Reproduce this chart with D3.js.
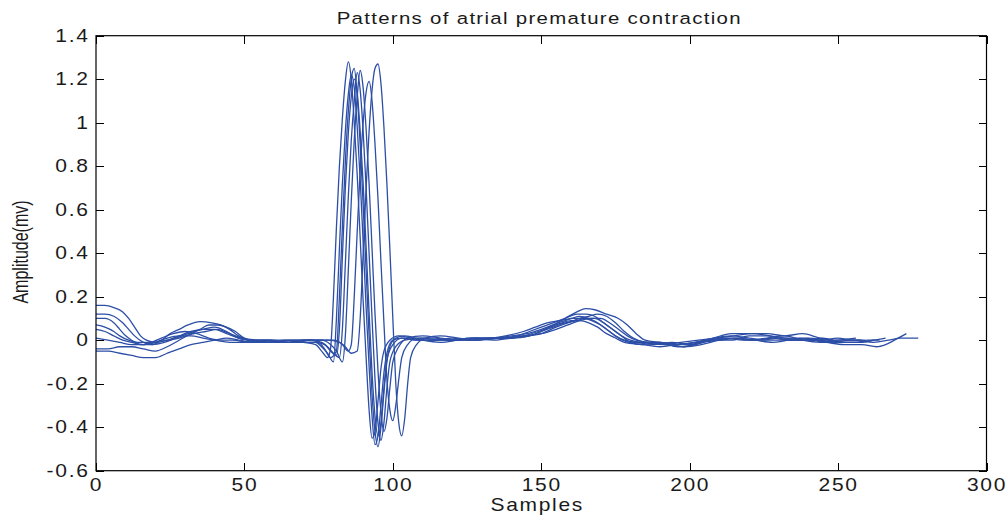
<!DOCTYPE html>
<html><head><meta charset="utf-8">
<script src="https://cdn.jsdelivr.net/npm/d3@7"></script>
<style>body{margin:0;background:#fff}svg{display:block}</style>
</head><body><svg id="c" width="1006" height="515"></svg>
<script>
const title = "Patterns of atrial premature contraction";
const xLabel = "Samples";
const yLabel = "Amplitude(mv)";
const xTicks = [0,50,100,150,200,250,300];
const yTicks = [-0.6,-0.4,-0.2,0,0.2,0.4,0.6,0.8,1,1.2,1.4];

const beat1 = [[0,0.16],[3,0.16],[6,0.15],[9,0.13],[11,0.10],[13,0.06],[15,0.02],[17,0.0],[20,-0.01],[24,0.0],[28,0.02],[32,0.04],[36,0.05],[40,0.06],[44,0.04],[48,0.01],[52,0.0],[58,-0.01],[64,0.0],[70,-0.01],[74,-0.02],[76,-0.05],[78,-0.08],[79,-0.04],[80,0.2],[81,0.52],[82,0.8],[83,1.02],[84,1.19],[85,1.28],[86,1.2],[87,1.0],[88,0.76],[89,0.47],[90,0.18],[91,-0.08],[92,-0.32],[93,-0.45],[94,-0.42],[95,-0.28],[96,-0.13],[97,-0.05],[99,0.0],[102,0.02],[106,0.01],[112,0.0],[120,0.0],[128,0.0],[136,0.01],[142,0.02],[146,0.04],[150,0.06],[154,0.08],[158,0.1],[162,0.12],[165,0.12],[168,0.11],[171,0.08],[174,0.05],[177,0.02],[180,-0.01],[184,-0.02],[190,-0.01],[196,-0.02],[202,-0.01],[208,0.0],[214,0.01],[220,0.0],[226,0.01],[232,0.02],[238,0.0],[244,-0.01],[250,0.0],[256,0.01]];
const beat2 = [[0,0.12],[3,0.12],[6,0.11],[9,0.08],[11,0.05],[13,0.02],[16,-0.01],[19,-0.02],[22,0.0],[25,0.03],[28,0.05],[31,0.07],[35,0.085],[39,0.08],[42,0.07],[45,0.05],[48,0.02],[52,0.0],[58,0.0],[64,-0.01],[70,-0.01],[74,-0.01],[76,-0.03],[78,-0.06],[80,-0.1],[81,0.1],[82,0.42],[83,0.72],[84,0.96],[85,1.13],[86,1.22],[87,1.16],[88,0.98],[89,0.74],[90,0.45],[91,0.15],[92,-0.12],[93,-0.35],[94,-0.48],[95,-0.44],[96,-0.3],[97,-0.15],[98,-0.06],[100,0.0],[103,0.01],[108,0.0],[114,0.0],[120,0.0],[126,0.01],[132,0.01],[138,0.02],[144,0.04],[148,0.06],[152,0.08],[156,0.09],[160,0.1],[163,0.11],[166,0.1],[169,0.08],[172,0.05],[175,0.02],[178,0.0],[182,-0.01],[188,-0.02],[194,-0.01],[200,-0.02],[206,0.0],[212,0.01],[218,0.0],[224,0.0],[230,0.01],[236,0.01],[242,0.0],[248,-0.01],[254,0.0],[258,0.0]];
const beat3 = [[0,0.10],[3,0.10],[6,0.08],[8,0.05],[10,0.02],[12,0.0],[15,-0.02],[19,-0.02],[23,-0.01],[27,0.01],[31,0.03],[35,0.05],[38,0.07],[41,0.07],[44,0.06],[47,0.04],[50,0.01],[54,0.0],[60,-0.01],[66,0.0],[72,0.0],[75,-0.01],[77,-0.04],[79,-0.08],[81,-0.05],[82,0.2],[83,0.52],[84,0.82],[85,1.05],[86,1.2],[87,1.25],[88,1.12],[89,0.9],[90,0.62],[91,0.32],[92,0.02],[93,-0.25],[94,-0.42],[95,-0.49],[96,-0.4],[97,-0.24],[98,-0.1],[99,-0.03],[101,0.01],[104,0.02],[110,0.0],[116,-0.01],[122,0.0],[128,0.01],[134,0.01],[140,0.02],[145,0.03],[150,0.05],[154,0.07],[158,0.09],[161,0.1],[164,0.1],[167,0.09],[170,0.07],[173,0.04],[176,0.01],[180,-0.01],[186,-0.01],[192,-0.02],[198,-0.03],[204,-0.01],[210,0.0],[216,0.01],[222,0.0],[228,0.01],[234,0.0],[240,0.01],[246,0.0],[252,-0.01],[258,-0.01],[262,0.0]];
const beat4 = [[0,0.07],[3,0.06],[6,0.04],[8,0.02],[11,0.0],[14,-0.01],[18,-0.01],[22,0.01],[26,0.03],[30,0.04],[34,0.03],[38,0.01],[42,0.0],[46,0.0],[52,-0.01],[58,0.0],[64,0.0],[70,-0.01],[74,-0.01],[77,-0.02],[79,-0.05],[81,-0.07],[82,0.05],[83,0.38],[84,0.7],[85,0.95],[86,1.12],[87,1.2],[88,1.14],[89,0.96],[90,0.72],[91,0.43],[92,0.13],[93,-0.15],[94,-0.35],[95,-0.44],[96,-0.38],[97,-0.22],[98,-0.09],[100,-0.02],[103,0.01],[108,0.0],[114,0.0],[120,0.01],[126,0.0],[132,0.01],[138,0.01],[144,0.02],[149,0.04],[153,0.06],[157,0.08],[160,0.09],[163,0.09],[166,0.08],[169,0.06],[172,0.03],[175,0.01],[178,-0.01],[184,-0.02],[190,-0.03],[196,-0.02],[202,-0.01],[208,0.01],[214,0.02],[220,0.01],[226,0.0],[232,0.0],[238,0.01],[244,0.0],[250,-0.01],[256,-0.01],[260,0.0],[264,0.0]];
const beat5 = [[0,0.05],[3,0.04],[6,0.02],[9,0.0],[12,-0.01],[16,-0.02],[20,-0.01],[24,0.01],[28,0.02],[32,0.02],[36,0.01],[40,0.0],[45,-0.01],[50,-0.01],[56,0.0],[62,-0.01],[68,-0.01],[72,0.0],[76,-0.01],[78,-0.03],[80,-0.06],[82,-0.08],[83,0.05],[84,0.35],[85,0.66],[86,0.92],[87,1.1],[88,1.23],[89,1.15],[90,0.96],[91,0.7],[92,0.4],[93,0.1],[94,-0.18],[95,-0.38],[96,-0.46],[97,-0.38],[98,-0.22],[99,-0.1],[101,-0.03],[104,0.0],[110,0.01],[116,0.0],[122,0.0],[128,0.01],[134,0.0],[140,0.01],[146,0.02],[150,0.04],[154,0.06],[158,0.08],[162,0.09],[165,0.1],[168,0.1],[171,0.08],[174,0.05],[177,0.02],[180,0.0],[184,-0.01],[190,-0.01],[196,-0.03],[202,-0.02],[208,0.0],[214,0.0],[220,0.02],[226,0.02],[232,0.01],[238,0.0],[244,0.0],[250,0.01],[255,0.0],[259,0.0]];
const beat6 = [[0,0.01],[4,0.0],[8,-0.01],[12,-0.02],[16,-0.02],[20,-0.01],[24,0.0],[28,0.01],[33,0.03],[37,0.04],[41,0.05],[45,0.03],[49,0.01],[53,0.0],[59,0.0],[65,-0.01],[71,0.0],[76,0.0],[79,-0.02],[81,-0.05],[83,-0.1],[84,0.02],[85,0.32],[86,0.64],[87,0.92],[88,1.12],[89,1.24],[90,1.16],[91,0.97],[92,0.72],[93,0.42],[94,0.12],[95,-0.14],[96,-0.33],[97,-0.42],[98,-0.36],[99,-0.22],[100,-0.1],[102,-0.03],[105,0.01],[110,0.02],[116,0.01],[122,0.0],[128,0.0],[134,0.01],[140,0.01],[145,0.02],[150,0.03],[155,0.06],[159,0.08],[163,0.1],[166,0.11],[169,0.12],[172,0.11],[175,0.08],[178,0.04],[181,0.01],[185,-0.01],[191,-0.02],[197,-0.01],[203,0.0],[209,0.01],[215,0.02],[221,0.03],[227,0.02],[233,0.0],[239,0.0],[245,0.01],[251,-0.01],[257,-0.01],[262,0.0],[266,0.01]];
const beat7 = [[0,-0.04],[4,-0.04],[8,-0.03],[12,-0.03],[16,-0.04],[20,-0.05],[24,-0.03],[28,0.0],[32,0.03],[36,0.05],[40,0.05],[44,0.03],[48,0.01],[52,0.0],[58,-0.01],[64,-0.01],[70,0.0],[76,0.0],[80,0.0],[83,-0.02],[85,-0.05],[86,-0.02],[87,0.2],[88,0.5],[89,0.78],[90,1.0],[91,1.14],[92,1.19],[93,1.1],[94,0.9],[95,0.65],[96,0.36],[97,0.08],[98,-0.18],[99,-0.32],[100,-0.37],[101,-0.3],[102,-0.18],[103,-0.08],[105,-0.02],[108,0.01],[114,0.01],[120,0.0],[126,0.01],[132,0.01],[138,0.01],[144,0.02],[150,0.03],[155,0.05],[159,0.07],[163,0.09],[167,0.1],[170,0.1],[173,0.08],[176,0.05],[179,0.02],[182,0.0],[186,-0.01],[192,-0.02],[198,-0.03],[204,-0.02],[210,0.0],[216,0.01],[222,0.0],[228,-0.01],[234,0.0],[240,0.0],[246,-0.01],[252,-0.02],[258,-0.02],[263,-0.03],[266,-0.02],[269,0.0],[273,0.03]];
const beat8 = [[0,-0.05],[4,-0.05],[8,-0.06],[12,-0.07],[16,-0.08],[20,-0.08],[24,-0.06],[28,-0.04],[32,-0.02],[36,-0.01],[40,0.0],[44,0.01],[48,0.0],[54,-0.01],[60,-0.01],[66,0.0],[72,0.0],[78,0.0],[82,-0.01],[84,-0.03],[86,-0.06],[88,-0.05],[89,0.1],[90,0.4],[91,0.7],[92,0.96],[93,1.15],[94,1.25],[95,1.27],[96,1.18],[97,0.98],[98,0.72],[99,0.42],[100,0.1],[101,-0.2],[102,-0.38],[103,-0.44],[104,-0.36],[105,-0.2],[106,-0.08],[108,-0.02],[111,0.01],[116,0.02],[122,0.01],[128,0.0],[134,0.01],[140,0.01],[146,0.02],[150,0.04],[154,0.07],[158,0.1],[162,0.13],[165,0.145],[168,0.14],[172,0.12],[176,0.1],[179,0.07],[182,0.03],[185,0.0],[190,-0.01],[196,-0.02],[202,-0.01],[208,0.01],[214,0.03],[220,0.03],[226,0.03],[232,0.02],[238,0.03],[244,0.01],[250,0.0],[256,0.0],[262,-0.01],[267,0.0],[271,0.01],[277,0.01]];

const beats = [beat1, beat2, beat3, beat4, beat5, beat6, beat7, beat8];

const svg = d3.select("#c");
const X0 = 96, X1 = 986.5, Y0 = 35.7, Y1 = 470.7;
const x = d3.scaleLinear().domain([0, 300]).range([X0, X1]);
const y = d3.scaleLinear().domain([-0.6, 1.4]).range([Y1, Y0]);
const font = "'Liberation Sans', Arial, Helvetica, sans-serif";
const SX = 1.2;
const fmt = d => String(+d.toFixed(1));

// lines
const line = d3.line().x(d => x(d[0])).y(d => y(d[1])).curve(d3.curveMonotoneX);
svg.append("g").selectAll("path").data(beats).join("path")
  .attr("d", line).attr("fill", "none")
  .attr("stroke", "#2c4ea6").attr("stroke-width", 1.3)
  .attr("stroke-linejoin", "round");

// axes
function styleAxis(g) {
  g.select(".domain").remove();
  g.selectAll(".tick line").attr("stroke", "#000").attr("shape-rendering", "crispEdges");
  g.selectAll("text").attr("fill", "#1a1a1a").style("font-family", font).style("font-size", "17.5px").style("letter-spacing", "1.4px");
}
const gb = svg.append("g").attr("transform", `translate(0,${Y1})`)
  .call(d3.axisBottom(x).tickValues(xTicks).tickFormat(fmt).tickSizeInner(-8).tickSizeOuter(0).tickPadding(8))
  .call(styleAxis);
gb.selectAll("text").attr("transform", `scale(${SX},1)`);
const gl = svg.append("g").attr("transform", `translate(${X0},0)`)
  .call(d3.axisLeft(y).tickValues(yTicks).tickFormat(fmt).tickSizeInner(-8).tickSizeOuter(0).tickPadding(8))
  .call(styleAxis);
gl.selectAll("text").attr("x", null).attr("transform", `translate(-6.5,0) scale(${SX},1)`);
svg.append("g").attr("transform", `translate(0,${Y0})`)
  .call(d3.axisTop(x).tickValues(xTicks).tickFormat("").tickSizeInner(-8).tickSizeOuter(0))
  .call(styleAxis);
svg.append("g").attr("transform", `translate(${X1},0)`)
  .call(d3.axisRight(y).tickValues(yTicks).tickFormat("").tickSizeInner(-8).tickSizeOuter(0))
  .call(styleAxis);

svg.append("rect").attr("x", X0).attr("y", Y0).attr("width", X1 - X0).attr("height", Y1 - Y0)
  .attr("fill", "none").attr("stroke", "#000").attr("stroke-width", 1.2);

// title & labels
svg.append("text").attr("transform", `translate(${(X0 + X1) / 2 - 2},24) scale(${SX},1)`)
  .attr("text-anchor", "middle").style("font-family", font).style("font-size", "17px")
  .style("letter-spacing", "1.1px").attr("fill", "#1a1a1a").text(title);
svg.append("text").attr("transform", `translate(${(X0 + X1) / 2 - 4},511) scale(${SX},1)`)
  .attr("text-anchor", "middle").style("font-family", font).style("font-size", "17.5px")
  .style("letter-spacing", "1.4px").attr("fill", "#1a1a1a").text(xLabel);
svg.append("text").attr("transform", `translate(28,252) scale(1.4,1) rotate(-90)`)
  .attr("text-anchor", "middle").style("font-family", font).style("font-size", "16px")
  .attr("fill", "#1a1a1a").text(yLabel);
</script>
</body></html>
